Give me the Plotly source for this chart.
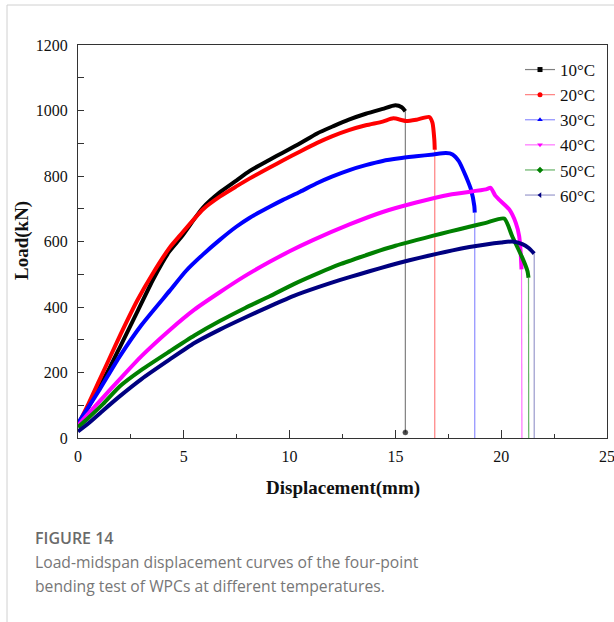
import plotly.graph_objects as go

# Load-displacement curves (mm, kN); the last point of each series is the
# end of the post-failure drop.
temps = ["10°C", "20°C", "30°C", "40°C", "50°C", "60°C"]

disp_10 = [0, 0.5, 1.0, 1.5, 2.0, 2.8, 3.55, 4.3, 4.9, 5.9, 6.7, 7.5, 8.1, 9.06, 9.7,
           10.5, 11.3, 12.1, 12.8, 13.6, 14.4, 15.0, 15.3, 15.47, 15.47]
load_10 = [40, 95, 155, 215, 280, 385, 484, 568, 615, 703, 750, 787, 815, 850, 872,
           900, 930, 953, 972, 990, 1005, 1016, 1010, 998, 17]

disp_20 = [0, 0.5, 1.0, 1.5, 2.0, 2.8, 3.55, 4.34, 4.81, 5.9, 6.7, 7.5, 8.1, 9.06, 9.7,
           10.5, 11.3, 12.0, 12.8, 13.6, 14.4, 14.9, 15.5, 16.0, 16.6, 16.75, 16.84,
           16.86, 16.86]
load_20 = [40, 105, 175, 245, 315, 420, 504, 582, 618, 698, 737, 769, 792, 826, 848,
           875, 901, 921, 940, 955, 966, 976, 968, 972, 980, 963, 911, 880, 0]

disp_30 = [0, 0.5, 1.04, 1.98, 3.0, 4.34, 5.1, 5.9, 6.7, 7.48, 8.1, 9.06, 9.69, 10.5,
           11.26, 12.0, 12.83, 13.6, 14.4, 15.2, 15.98, 16.8, 17.39, 17.7, 18.0, 18.33,
           18.57, 18.73, 18.75, 18.75]
load_30 = [45, 95, 150, 250, 345, 450, 510, 560, 605, 645, 672, 706, 727, 752,
           777, 798, 818, 833, 846, 854, 860, 866, 870, 866, 845, 799,
           759, 708, 688, 0]

disp_40 = [0, 0.5, 1.2, 1.98, 3.0, 4.34, 5.5, 6.7, 7.9, 9.06, 10.0, 11.1, 12.83, 14.4,
           15.98, 17.55, 19.28, 19.5, 19.72, 19.9, 20.38, 20.69, 20.85, 20.92, 20.96,
           20.98]
load_40 = [38, 75, 125, 180, 250, 330, 392, 445, 495, 538, 570, 604, 652, 690,
           719, 743, 759, 764, 740, 728, 698, 657, 616, 566, 515,
           0]

disp_50 = [0, 0.5, 1.2, 1.98, 3.0, 4.34, 5.5, 6.7, 7.9, 9.06, 10.2, 11.42, 12.36, 13.6,
           14.25, 15.0, 15.98, 16.75, 17.55, 18.5, 19.28, 20.14, 20.52, 21.0, 21.24,
           21.29, 21.3]
load_50 = [33, 62, 105, 158, 208, 265, 313, 357, 397, 433, 470, 505, 530, 558,
           572, 587, 604, 617, 630, 645, 657, 670, 616, 550, 510,
           489, 0]

disp_60 = [0, 0.5, 1.2, 1.98, 3.0, 4.34, 5.5, 6.7, 7.9, 9.06, 10.2, 11.42, 12.36, 13.3,
           14.25, 15.2, 16.13, 17.0, 17.7, 18.5, 19.28, 20.0, 20.53, 21.0, 21.3, 21.56,
           21.56]
load_60 = [20, 45, 85, 128, 180, 240, 290, 331, 368, 402, 434, 462, 482, 500,
           518, 535, 550, 563, 573, 583, 591, 597, 600, 592, 580, 563,
           0]

series_disp = [disp_10, disp_20, disp_30, disp_40, disp_50, disp_60]
series_load = [load_10, load_20, load_30, load_40, load_50, load_60]

x_ticks = [0, 5, 10, 15, 20, 25]
y_ticks = [0, 200, 400, 600, 800, 1000, 1200]

colors = ["#000000", "#ff0000", "#0000ff", "#ff00ff", "#008000", "#000080"]
faded = ["rgba(0,0,0,0.5)", "rgba(255,0,0,0.5)", "rgba(0,0,255,0.45)",
         "rgba(255,0,255,0.55)", "rgba(0,128,0,0.6)", "rgba(0,0,128,0.4)"]
symbols = ["square", "circle", "triangle-up", "triangle-down", "diamond", "triangle-left"]

W, H = 614, 622
L, R, T, B = 78, 7, 45, 184
PW, PH = W - L - R, H - T - B


def px(x):
    return (x - L) / PW


def py(y):
    return 1 - (y - T) / PH


SERIF = "Liberation Serif, Times New Roman, serif"
SANS = "Open Sans, Noto Sans, sans-serif"

fig = go.Figure()

for i in range(len(temps)):
    xs, ys = series_disp[i], series_load[i]
    # thin post-failure drop
    fig.add_trace(go.Scatter(
        x=xs[-2:], y=ys[-2:], mode="lines+markers",
        line=dict(color=faded[i], width=1.2),
        marker=dict(color=colors[i], size=[0, 5 if ys[-1] > 0 else 0]),
        showlegend=False, hoverinfo="skip"))
    # dense measured curve
    fig.add_trace(go.Scatter(
        x=xs[:-1], y=ys[:-1], mode="lines",
        line=dict(color=colors[i], width=4, shape="spline", smoothing=0.6),
        showlegend=False, name=temps[i]))

# legend entries: thin line with a small symbol
for i in range(len(temps)):
    fig.add_trace(go.Scatter(
        x=[None], y=[None], mode="lines+markers", name=temps[i],
        line=dict(color=faded[i], width=1.2),
        marker=dict(color=colors[i], size=5, symbol=symbols[i])))

axis_common = dict(
    showline=True, linecolor="#333", linewidth=1.2, mirror=True,
    showgrid=False, zeroline=False,
    ticks="inside", tickcolor="#333", tickwidth=1.2,
    tickfont=dict(family=SERIF, size=16, color="#111"),
    ticklabeloverflow="allow", automargin=False,
)

fig.update_xaxes(range=[0, 25], tickvals=x_ticks, ticklen=8,
                 minor=dict(ticks="inside", ticklen=4, dtick=2.5, tickcolor="#333", tickwidth=1.2),
                 ticklabelstandoff=4, **axis_common)
fig.update_yaxes(range=[0, 1200], tickvals=y_ticks, ticklen=6,
                 minor=dict(ticks="inside", ticklen=6, dtick=100, tickcolor="#333", tickwidth=1.2),
                 ticklabelstandoff=6, **axis_common)

annotations = [
    dict(text="<b>Displacement(mm)</b>", x=px(343), y=py(488), xref="paper", yref="paper",
         showarrow=False, xanchor="center", yanchor="middle",
         font=dict(family=SERIF, size=19, color="#111")),
    dict(text="<b>Load(kN)</b>", x=px(22), y=py(241), xref="paper", yref="paper",
         showarrow=False, xanchor="center", yanchor="middle", textangle=-90,
         font=dict(family=SERIF, size=19, color="#111")),
    dict(text="FIGURE 14", x=px(33), y=py(538), xref="paper", yref="paper",
         showarrow=False, xanchor="left", yanchor="middle",
         font=dict(family=SANS, size=16, color="#6a6a6a", weight=600)),
    dict(text="Load-midspan displacement curves of the four-point", x=px(33), y=py(562),
         xref="paper", yref="paper", showarrow=False, xanchor="left", yanchor="middle",
         font=dict(family=SANS, size=15.7, color="#777")),
    dict(text="bending test of WPCs at different temperatures.", x=px(33), y=py(586),
         xref="paper", yref="paper", showarrow=False, xanchor="left", yanchor="middle",
         font=dict(family=SANS, size=15.7, color="#777")),
]

shapes = [
    dict(type="line", xref="paper", yref="paper", x0=px(7), x1=px(7), y0=py(5), y1=py(640),
         line=dict(color="#d0d0d0", width=1)),
    dict(type="line", xref="paper", yref="paper", x0=px(7), x1=px(640), y0=py(5), y1=py(5),
         line=dict(color="#d0d0d0", width=1)),
]

fig.update_layout(
    width=W, height=H,
    margin=dict(l=L, r=R, t=T, b=B, autoexpand=False),
    paper_bgcolor="white", plot_bgcolor="white",
    annotations=annotations, shapes=shapes,
    legend=dict(x=px(520), y=py(52), xanchor="left", yanchor="top",
                font=dict(family=SERIF, size=17, color="#111"),
                bgcolor="rgba(0,0,0,0)", itemwidth=30, tracegroupgap=0),
)

fig.write_html("out.html")
